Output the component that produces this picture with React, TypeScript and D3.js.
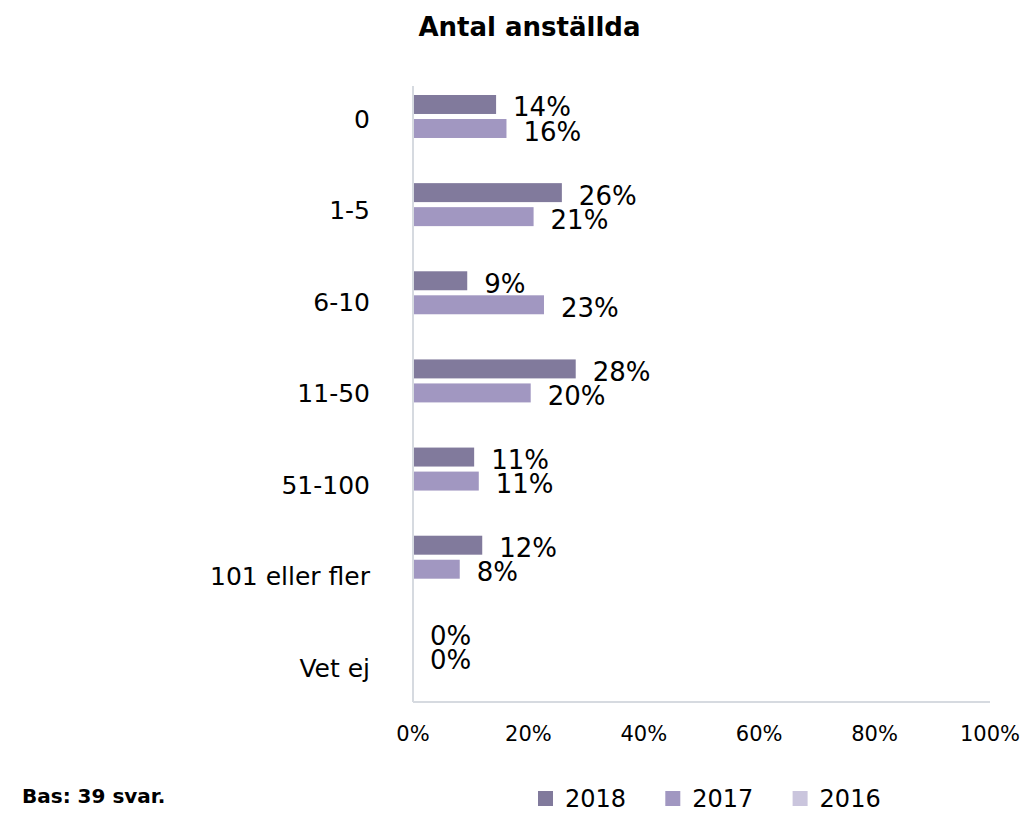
import React from "react";
import * as d3 from "d3";

const title = "Antal anställda";
const categories = ["0", "1-5", "6-10", "11-50", "51-100", "101 eller fler", "Vet ej"];
const seriesNames = ["2018", "2017", "2016"];
const values2018 = [14.4, 25.8, 9.4, 28.2, 10.6, 12.0, 0];
const values2017 = [16.2, 20.9, 22.7, 20.4, 11.4, 8.1, 0];
const values2016: (number | null)[] = [null, null, null, null, null, null, null];
const xTicks = [0, 20, 40, 60, 80, 100];
const footnote = "Bas: 39 svar.";
const colors = ["#817a9c", "#a197c1", "#cac5dd"];

const FONT = "'DejaVu Sans', Verdana, sans-serif";

export default function App() {
  const W = 1025;
  const H = 813;
  const left = 413;
  const right = 990;
  const top = 86;
  const bottom = 703;

  const x = d3.scaleLinear().domain([0, 100]).range([left, right]);
  const y = d3.scaleBand<string>().domain(categories).range([top, bottom]).paddingInner(0);
  const ySeries = d3.scaleBand<string>().domain(seriesNames).range([9, 76]).paddingInner(0.21);
  const yLabel = d3.scalePoint<string>().domain(categories).range([119, 668]);

  const seriesData = [values2018, values2017, values2016];

  return (
    <svg width={W} height={H} style={{ display: "block", position: "absolute", left: 0, top: 0 }}>
      <rect width={W} height={H} fill="#ffffff" />
      <text x={529.5} y={36} textAnchor="middle" fontFamily={FONT} fontWeight="bold" fontSize={26} fill="#000">
        {title}
      </text>

      {/* bars */}
      {seriesData.map((vals, si) =>
        vals.map((v, ci) => {
          if (v === null || v === undefined) return null;
          const by = (y(categories[ci]) as number) + (ySeries(seriesNames[si]) as number);
          const bh = ySeries.bandwidth();
          const w = x(v) - x(0);
          return (
            <g key={`b-${si}-${ci}`}>
              {w > 0 && <rect x={x(0)} y={by} width={w} height={bh} fill={colors[si]} />}
              <text
                x={x(v) + 17}
                y={by + bh / 2 + 3}
                dominantBaseline="central"
                fontFamily={FONT}
                fontSize={26}
                fill="#000"
              >
                {`${Math.round(v)}%`}
              </text>
            </g>
          );
        })
      )}

      {/* axes */}
      <line x1={left} x2={left} y1={top} y2={bottom - 1} stroke="#d6dae0" strokeWidth={2} />
      <line x1={left} x2={right} y1={bottom - 1} y2={bottom - 1} stroke="#d6dae0" strokeWidth={2} />

      {categories.map((c) => (
        <text
          key={`c-${c}`}
          x={370}
          y={yLabel(c) as number}
          textAnchor="end"
          dominantBaseline="central"
          fontFamily={FONT}
          fontSize={25}
          fill="#000"
        >
          {c}
        </text>
      ))}

      {xTicks.map((t) => (
        <text
          key={`t-${t}`}
          x={x(t)}
          y={734}
          textAnchor="middle"
          dominantBaseline="central"
          fontFamily={FONT}
          fontSize={21}
          fill="#000"
        >
          {`${t}%`}
        </text>
      ))}

      <text x={22} y={803} fontFamily={FONT} fontWeight="bold" fontSize={20} fill="#000">
        {footnote}
      </text>

      {seriesNames.map((s, i) => {
        const lx = 538 + i * 127.3;
        return (
          <g key={`l-${s}`}>
            <rect x={lx} y={791} width={15} height={15} fill={colors[i]} />
            <text x={lx + 27} y={799} dominantBaseline="central" fontFamily={FONT} fontSize={24} fill="#000">
              {s}
            </text>
          </g>
        );
      })}
    </svg>
  );
}
